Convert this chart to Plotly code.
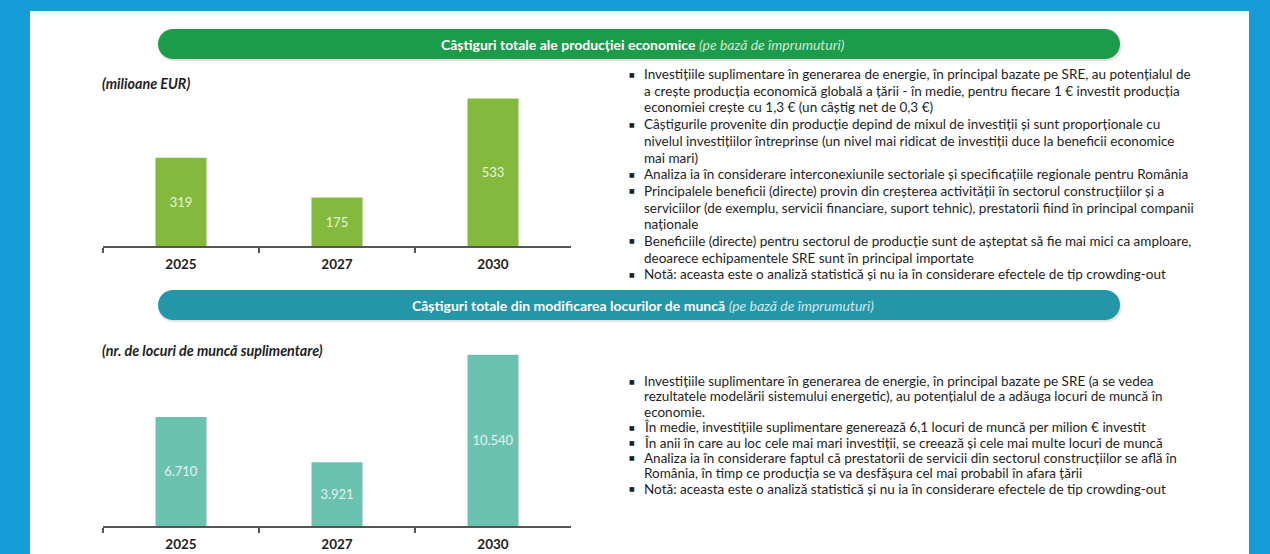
import plotly.graph_objects as go

W, H = 1270, 554

# ---------------- data ----------------
years = ["2025", "2027", "2030"]
output_gain = [319, 175, 533]          # milioane EUR
jobs_gain = [6710, 3921, 10540]        # nr. de locuri de muncă suplimentare

title_top_bold = "Câștiguri totale ale producției economice"
title_bot_bold = "Câștiguri totale din modificarea locurilor de muncă"
title_italic = "(pe bază de împrumuturi)"
unit_top = "(milioane EUR)"
unit_bot = "(nr. de locuri de muncă suplimentare)"

bullets_top = [
    ["Investițiile suplimentare în generarea de energie, în principal bazate pe SRE, au potențialul de",
     "a crește producția economică globală a țării - în medie, pentru fiecare 1 € investit producția",
     "economiei crește cu 1,3 € (un câștig net de 0,3 €)"],
    ["Câștigurile provenite din producție depind de mixul de investiții și sunt proporționale cu",
     "nivelul investițiilor întreprinse (un nivel mai ridicat de investiții duce la beneficii economice",
     "mai mari)"],
    ["Analiza ia în considerare interconexiunile sectoriale și specificațiile regionale pentru România"],
    ["Principalele beneficii (directe) provin din creșterea activității în sectorul construcțiilor și a",
     "serviciilor (de exemplu, servicii financiare, suport tehnic), prestatorii fiind în principal companii",
     "naționale"],
    ["Beneficiile (directe) pentru sectorul de producție sunt de așteptat să fie mai mici ca amploare,",
     "deoarece echipamentele SRE sunt în principal importate"],
    ["Notă: aceasta este o analiză statistică și nu ia în considerare efectele de tip crowding-out"],
]
bullets_bot = [
    ["Investițiile suplimentare în generarea de energie, în principal bazate pe SRE (a se vedea",
     "rezultatele modelării sistemului energetic), au potențialul de a adăuga locuri de muncă în",
     "economie."],
    ["În medie, investițiile suplimentare generează 6,1 locuri de muncă per milion € investit"],
    ["În anii în care au loc cele mai mari investiții, se creează și cele mai multe locuri de muncă"],
    ["Analiza ia în considerare faptul că prestatorii de servicii din sectorul construcțiilor se află în",
     "România, în timp ce producția se va desfășura cel mai probabil în afara țării"],
    ["Notă: aceasta este o analiză statistică și nu ia în considerare efectele de tip crowding-out"],
]

# ---------------- style ----------------
BLUE = "#169dd8"
GREEN_PILL = "#1a9c4a"
TEAL_PILL = "#2396a8"
GREEN_BAR = "#83ba3d"
TEAL_BAR = "#6cc2b0"
FONT = "Lato"
TXT = "#1e1e1e"


def px(x):
    return x / W


def py(y):
    return 1 - y / H


def pill_path(x0, y0, x1, y1):
    r = (y1 - y0) / 2
    k = 0.5523 * r
    pts = [
        f"M{px(x0 + r)},{py(y0)}",
        f"L{px(x1 - r)},{py(y0)}",
        f"C{px(x1 - r + k)},{py(y0)} {px(x1)},{py(y0 + r - k)} {px(x1)},{py(y0 + r)}",
        f"C{px(x1)},{py(y0 + r + k)} {px(x1 - r + k)},{py(y1)} {px(x1 - r)},{py(y1)}",
        f"L{px(x0 + r)},{py(y1)}",
        f"C{px(x0 + r - k)},{py(y1)} {px(x0)},{py(y0 + r + k)} {px(x0)},{py(y0 + r)}",
        f"C{px(x0)},{py(y0 + r - k)} {px(x0 + r - k)},{py(y0)} {px(x0 + r)},{py(y0)}",
        "Z",
    ]
    return " ".join(pts)


fig = go.Figure()

fig.add_trace(go.Bar(
    x=years, y=output_gain, marker_color=GREEN_BAR, marker_line_width=0,
    texttemplate="%{y}",
    textposition="inside", insidetextanchor="middle", textangle=0,
    textfont=dict(family=FONT, size=13, color="#e9f3dc"),
    xaxis="x", yaxis="y", hoverinfo="skip", showlegend=False,
))
fig.add_trace(go.Bar(
    x=years, y=jobs_gain, marker_color=TEAL_BAR, marker_line_width=0,
    texttemplate="%{y:,}",
    textposition="inside", insidetextanchor="middle", textangle=0,
    textfont=dict(family=FONT, size=13, color="#e2f3ee"),
    xaxis="x2", yaxis="y2", hoverinfo="skip", showlegend=False,
))

xdom = [px(103), px(571)]
xaxis_common = dict(
    domain=xdom, type="category", showline=True, linecolor="#555555", linewidth=2,
    ticks="outside", tickson="boundaries", ticklen=5, tickwidth=1.5, tickcolor="#555555",
    tickfont=dict(family=FONT, size=13.5, color=TXT, weight="bold"),
    ticklabelstandoff=5, showgrid=False, zeroline=False, fixedrange=True,
)

shapes = [
    dict(type="rect", xref="paper", yref="paper", x0=px(30), x1=px(1249), y0=0, y1=py(11),
         fillcolor="white", line_width=0, layer="below"),
]
for (y0, y1, col) in [(29, 59, GREEN_PILL), (290, 320, TEAL_PILL)]:
    shapes.append(dict(type="path", xref="paper", yref="paper",
                       path=pill_path(158, y0 + 2, 1122, y1 + 2),
                       fillcolor="rgba(0,0,0,0.10)", line_width=0, layer="below"))
    shapes.append(dict(type="path", xref="paper", yref="paper",
                       path=pill_path(158, y0, 1120, y1),
                       fillcolor=col, line_width=0, layer="below"))

annotations = []
for (yc, bold, itcol) in [(44, title_top_bold, "#cde8d2"), (305, title_bot_bold, "#cfe9ee")]:
    annotations.append(dict(
        xref="paper", yref="paper", x=px(643), y=py(yc), xanchor="center", yanchor="middle",
        showarrow=False,
        text=f"<b>{bold}</b> <i><span style='color:{itcol}'>{title_italic}</span></i>",
        font=dict(family=FONT, size=14, color="white"),
    ))

for (yc, t) in [(83, unit_top), (350, unit_bot)]:
    annotations.append(dict(
        xref="paper", yref="paper", x=px(100), y=py(yc), xanchor="left", yanchor="middle",
        showarrow=False, text=f"<b><i>{t}</i></b>",
        font=dict(family=FONT, size=14.3, color=TXT),
    ))


def add_block(blocks, y_start, step):
    y = y_start
    for para in blocks:
        annotations.append(dict(
            xref="paper", yref="paper", x=px(632), y=py(y), xanchor="center", yanchor="middle",
            showarrow=False, text="■", font=dict(family="DejaVu Sans", size=6, color=TXT),
        ))
        for line in para:
            annotations.append(dict(
                xref="paper", yref="paper", x=px(642), y=py(y), xanchor="left", yanchor="middle",
                showarrow=False, text=line, font=dict(family=FONT, size=13.5, color=TXT),
            ))
            y += step


add_block(bullets_top, 74, 16.7)
add_block(bullets_bot, 381, 15.4)

fig.update_layout(
    width=W, height=H, margin=dict(l=0, r=0, t=0, b=0),
    paper_bgcolor=BLUE, plot_bgcolor="rgba(0,0,0,0)",
    separators=",.", bargap=0.673,
    xaxis=dict(**xaxis_common, anchor="y"),
    yaxis=dict(domain=[py(246), py(80)], range=[0, 600], visible=False, fixedrange=True),
    xaxis2=dict(**xaxis_common, anchor="y2"),
    yaxis2=dict(domain=[py(526), py(331)], range=[0, 12000], visible=False, fixedrange=True),
    shapes=shapes, annotations=annotations,
)

fig.write_html("out.html", config={"displayModeBar": False},
               post_script="document.body.style.margin='0px';document.body.style.overflow='hidden';")
